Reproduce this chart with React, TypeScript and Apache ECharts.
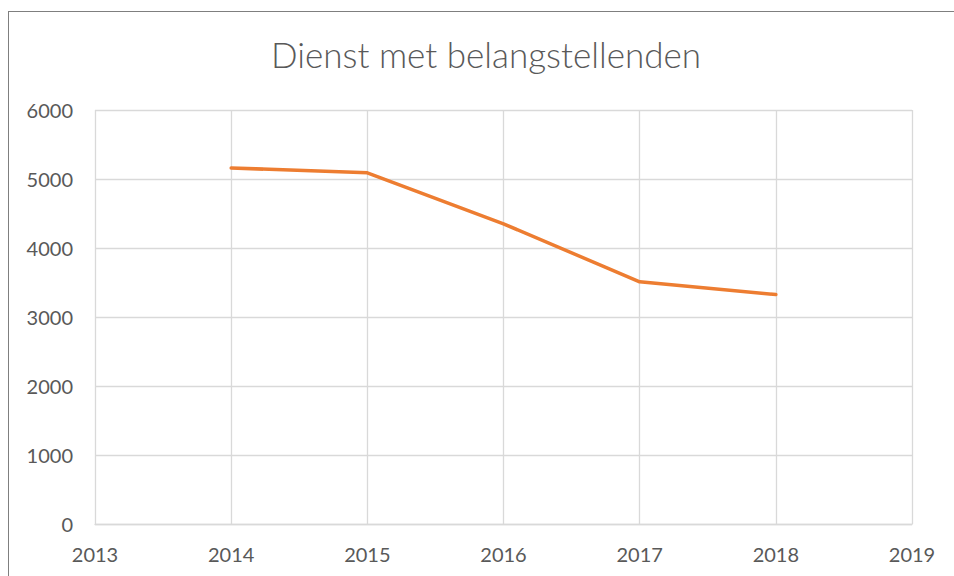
import React, { useEffect, useRef } from "react";
import * as echarts from "echarts";

const TITLE = "Dienst met belangstellenden";
const years = [2014, 2015, 2016, 2017, 2018];
const values = [5160, 5090, 4350, 3510, 3325];
const xMin = 2013;
const xMax = 2019;
const yMin = 0;
const yMax = 6000;
const yStep = 1000;

const FONT = "Lato";
const TEXT_COLOR = "#595959";
const GRID_COLOR = "#d9d9d9";

export default function App() {
  const ref = useRef<HTMLDivElement>(null);
  useEffect(() => {
    if (!ref.current) return;
    const chart = echarts.init(ref.current, undefined, { renderer: "svg" });
    chart.setOption({
      animation: false,
      backgroundColor: "#ffffff",
      graphic: [
        {
          type: "text",
          x: 477,
          y: 42,
          style: {
            text: TITLE,
            textAlign: "center",
            textVerticalAlign: "middle",
            fontSize: 35,
            fontWeight: 300,
            fontFamily: FONT,
            fill: TEXT_COLOR,
          },
        },
      ],
      grid: { left: 86, top: 98, right: 42, bottom: 52, containLabel: false },
      xAxis: {
        type: "value",
        min: xMin,
        max: xMax,
        interval: 1,
        axisLine: { show: true, lineStyle: { color: GRID_COLOR, width: 1.3 } },
        axisTick: { show: false },
        axisLabel: {
          formatter: (v: number) => String(v),
          color: TEXT_COLOR,
          fontSize: 20,
          fontFamily: FONT,
          margin: 20,
        },
        splitLine: { show: true, lineStyle: { color: GRID_COLOR, width: 1.3 } },
      },
      yAxis: {
        type: "value",
        min: yMin,
        max: yMax,
        interval: yStep,
        axisLine: { show: false },
        axisTick: { show: false },
        axisLabel: {
          formatter: (v: number) => String(v),
          color: TEXT_COLOR,
          fontSize: 20,
          fontFamily: FONT,
          margin: 22,
        },
        splitLine: { show: true, lineStyle: { color: GRID_COLOR, width: 1.3 } },
      },
      series: [
        {
          type: "line",
          data: years.map((y, i) => [y, values[i]]),
          showSymbol: false,
          symbol: "none",
          lineStyle: { color: "#ED7D31", width: 3.5, join: "round", cap: "round" },
          itemStyle: { color: "#ED7D31" },
        },
      ],
    });
    return () => chart.dispose();
  }, []);
  return (
    <div
      style={{
        position: "fixed",
        left: 8,
        top: 11,
        borderTop: "1px solid #7f7f7f",
        borderLeft: "1px solid #7f7f7f",
        width: 945,
        height: 564,
        overflow: "hidden",
        background: "#ffffff",
      }}
    >
      <div ref={ref} style={{ width: 945, height: 564 }} />
    </div>
  );
}
